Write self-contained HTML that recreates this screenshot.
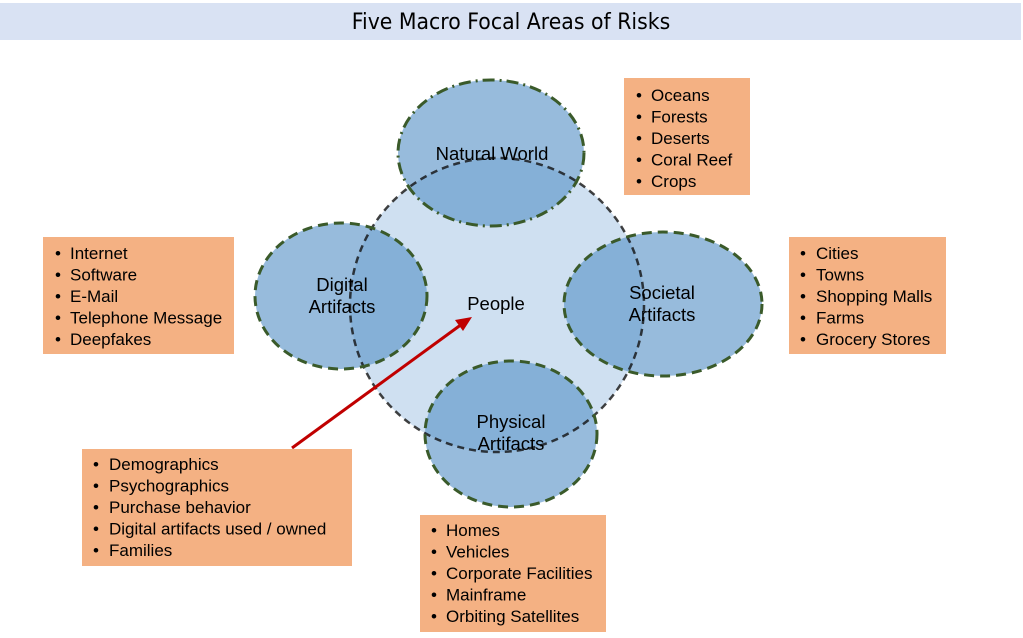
<!DOCTYPE html>
<html><head><meta charset="utf-8"><style>
html,body{margin:0;padding:0;background:#fff;width:1023px;height:638px;overflow:hidden}
svg{display:block}
text{font-family:"Liberation Sans","DejaVu Sans",sans-serif;fill:#000}
.li{font-size:17px}
.lb{font-size:18.5px}
</style></head><body>
<svg width="1023" height="638" viewBox="0 0 1023 638" xmlns="http://www.w3.org/2000/svg">
<rect x="0" y="3" width="1021" height="37" fill="#d9e2f3"/>
<text x="511" y="29" text-anchor="middle" style="font-size:22px;font-family:'DejaVu Sans',sans-serif" transform="translate(511 0) scale(0.93 1) translate(-511 0)">Five Macro Focal Areas of Risks</text>

<circle cx="497" cy="305" r="147" fill="#cfe0f1"/>
<g fill="#5b93c8" fill-opacity="0.63">
<ellipse cx="491" cy="153" rx="93" ry="73"/>
<ellipse cx="341" cy="296" rx="86" ry="73"/>
<ellipse cx="663" cy="304" rx="99" ry="72"/>
<ellipse cx="511" cy="434" rx="86" ry="73"/>
</g>
<circle cx="497" cy="305" r="147" fill="none" stroke="#111" stroke-width="2.5" stroke-dasharray="7,5" stroke-opacity="0.8"/>
<g fill="none" stroke="#3a5a2a" stroke-width="3" stroke-dasharray="10,6">
<ellipse cx="491" cy="153" rx="93" ry="73" stroke-dasharray="12,5,2,5"/>
<ellipse cx="341" cy="296" rx="86" ry="73"/>
<ellipse cx="663" cy="304" rx="99" ry="72"/>
<ellipse cx="511" cy="434" rx="86" ry="73"/>
</g>

<g class="lb" text-anchor="middle">
<text x="492" y="160">Natural World</text>
<text x="342" y="291">Digital</text>
<text x="342" y="313">Artifacts</text>
<text x="496" y="310">People</text>
<text x="662" y="299">Societal</text>
<text x="662" y="321">Artifacts</text>
<text x="511" y="428">Physical</text>
<text x="511" y="450">Artifacts</text>
</g>

<line x1="292" y1="448" x2="462" y2="324" stroke="#c00000" stroke-width="3"/>
<polygon points="472,317 455,320 463,331" fill="#c00000"/>

<g fill="#f4b183">
<rect x="624" y="78" width="126" height="117"/>
<rect x="43" y="237" width="191" height="117"/>
<rect x="789" y="237" width="157" height="117"/>
<rect x="82" y="449" width="270" height="117"/>
<rect x="420" y="515" width="186" height="117"/>
</g>

<g class="li">
<g transform="translate(636 0)">
<text x="0" y="101">•</text><text x="0" y="122.5">•</text><text x="0" y="144">•</text><text x="0" y="165.5">•</text><text x="0" y="187">•</text>
</g>
<text x="651" y="101">Oceans</text>
<text x="651" y="122.5">Forests</text>
<text x="651" y="144">Deserts</text>
<text x="651" y="165.5">Coral Reef</text>
<text x="651" y="187">Crops</text>

<g transform="translate(55 0)">
<text x="0" y="259">•</text><text x="0" y="280.5">•</text><text x="0" y="302">•</text><text x="0" y="323.5">•</text><text x="0" y="345">•</text>
</g>
<text x="70" y="259">Internet</text>
<text x="70" y="280.5">Software</text>
<text x="70" y="302">E-Mail</text>
<text x="70" y="323.5">Telephone Message</text>
<text x="70" y="345">Deepfakes</text>

<g transform="translate(800 0)">
<text x="0" y="259">•</text><text x="0" y="280.5">•</text><text x="0" y="302">•</text><text x="0" y="323.5">•</text><text x="0" y="345">•</text>
</g>
<text x="816" y="259">Cities</text>
<text x="816" y="280.5">Towns</text>
<text x="816" y="302">Shopping Malls</text>
<text x="816" y="323.5">Farms</text>
<text x="816" y="345">Grocery Stores</text>

<g transform="translate(93 0)">
<text x="0" y="470">•</text><text x="0" y="491.5">•</text><text x="0" y="513">•</text><text x="0" y="534.5">•</text><text x="0" y="556">•</text>
</g>
<text x="109" y="470">Demographics</text>
<text x="109" y="491.5">Psychographics</text>
<text x="109" y="513">Purchase behavior</text>
<text x="109" y="534.5">Digital artifacts used / owned</text>
<text x="109" y="556">Families</text>

<g transform="translate(431 0)">
<text x="0" y="536">•</text><text x="0" y="557.5">•</text><text x="0" y="579">•</text><text x="0" y="600.5">•</text><text x="0" y="622">•</text>
</g>
<text x="446" y="536">Homes</text>
<text x="446" y="557.5">Vehicles</text>
<text x="446" y="579">Corporate Facilities</text>
<text x="446" y="600.5">Mainframe</text>
<text x="446" y="622">Orbiting Satellites</text>
</g>
</svg>
</body></html>
